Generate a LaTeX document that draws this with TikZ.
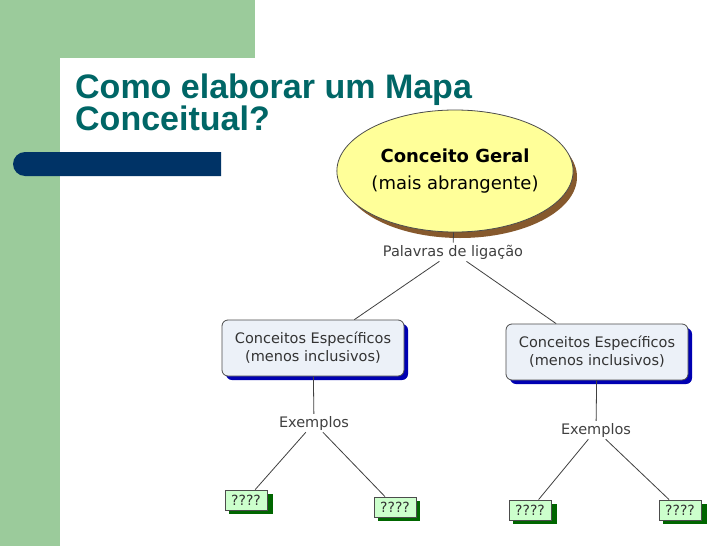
\documentclass[tikz,border=0pt]{standalone}
\usepackage{fontspec}
\setmainfont{DejaVu Sans}
\newfontfamily\titlefont{Liberation Sans}
\usepackage{xcolor}
\usetikzlibrary{positioning}
\usetikzlibrary{shapes.geometric}

\begin{document}
\begin{tikzpicture}
    [%%%%%%%%%%%%%%%%%%%%%%%%%%%%%%
        x=1pt,y=-1pt,
        general/.style={ellipse,draw=black!70,thick,fill=geralfill,inner sep=0pt,minimum width=234pt,minimum height=122pt,align=center,font=\fontsize{18}{27}\selectfont},
        specific/.style={rectangle,rounded corners=6pt,draw=black!70,thick,fill=specfill,minimum width=182pt,minimum height=56pt,align=center,font=\fontsize{14.5}{18}\selectfont,text=black!80},
        example/.style={rectangle,draw=black!70,thick,fill=exfill,minimum width=42pt,minimum height=20pt,inner sep=1pt,font=\fontsize{14}{14}\selectfont,text=black!80},
        linkword/.style={font=\fontsize{14.5}{16}\selectfont,text=black!75,inner sep=2pt},
        edge/.style={draw=black!75,thick}
    ]%%%%%%%%%%%%%%%%%%%%%%%%%%%%%%
\definecolor{bggreen}{RGB}{155,203,155}
\definecolor{barblue}{RGB}{0,51,102}
\definecolor{titleteal}{RGB}{0,102,102}
\definecolor{geralfill}{RGB}{255,255,153}
\definecolor{specfill}{RGB}{236,241,248}
\definecolor{exfill}{RGB}{204,255,204}
\useasboundingbox (0,0) rectangle (728,546);
% background
\fill[bggreen] (0,0) rectangle (255,58);
\fill[bggreen] (0,0) rectangle (60,546);
\fill[white,rounded corners=20pt] (60,58) rectangle (760,580);
\fill[barblue] (221,176) -- (221,152) [rounded corners=12pt] -- (13,152) -- (13,176) [sharp corners] -- (221,176) -- cycle;
\node[anchor=base west,inner sep=0pt,text=titleteal,font=\titlefont\bfseries\fontsize{34}{32}\selectfont,align=left] (title) at (75,130)
    {Como elaborar um Mapa\\Conceitual?};

% concepts
\fill[brown!70!black] (460,177) ellipse[x radius=117pt,y radius=61pt];
\node[general] (geral) at (455,171) {\textbf{Conceito Geral}\\(mais abrangente)};
\node[linkword] (palavras) at (453,252) {Palavras de ligação};

\fill[blue!70!black,rounded corners=6pt] (226,324) rectangle (408,380);
\node[specific] (espA) at (313,348) {Conceitos Específicos\\(menos inclusivos)};
\fill[blue!70!black,rounded corners=6pt] (510,328) rectangle (692,384);
\node[specific] (espB) at (597,352) {Conceitos Específicos\\(menos inclusivos)};

\node[linkword] (exA) at (314,423) {Exemplos};
\node[linkword] (exB) at (596,430) {Exemplos};

\fill[green!40!black] (229,494) rectangle (273,514);
\node[example] (qA) at (246,500) {????};
\fill[green!40!black] (378,501) rectangle (420,521);
\node[example] (qB) at (395,507) {????};
\fill[green!40!black] (513,504) rectangle (557,524);
\node[example] (qC) at (530,510) {????};
\fill[green!40!black] (663,504) rectangle (707,524);
\node[example] (qD) at (680,510) {????};

% connectors
\draw[edge] (geral) -- (palavras);
\draw[edge] (palavras) -- (espA);
\draw[edge] (palavras) -- (espB);
\draw[edge] (espA) -- (exA);
\draw[edge] (espB) -- (exB);
\draw[edge] (exA) -- (qA);
\draw[edge] (exA) -- (qB);
\draw[edge] (exB) -- (qC);
\draw[edge] (exB) -- (qD);
\end{tikzpicture}
\end{document}
